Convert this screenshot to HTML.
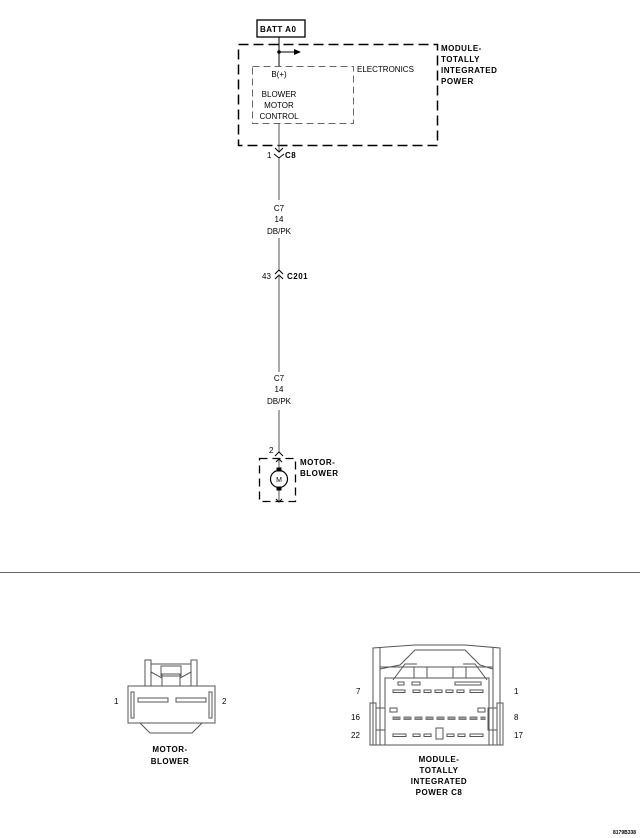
<!DOCTYPE html>
<html><head><meta charset="utf-8"><style>
html,body{margin:0;padding:0;background:#fff;}
svg{display:block;}
text{font-family:"Liberation Sans",sans-serif;fill:#000;}
.t{font-size:8px;}
.b{font-size:8px;font-weight:bold;letter-spacing:0.5px;}
</style></head><body>
<svg width="640" height="838" viewBox="0 0 640 838" xmlns="http://www.w3.org/2000/svg">
<g stroke="#000" fill="none" stroke-width="1">
<!-- BATT box -->
<rect x="257" y="20" width="48" height="17" stroke-width="1.3"/>
<!-- outer dashed -->
<rect x="238.5" y="44.5" width="199" height="101" stroke-dasharray="10,5" stroke-width="1.5"/>
<!-- inner dashed -->
<rect x="252.5" y="66.5" width="101" height="57" stroke-dasharray="7,4" stroke="#666"/>
<!-- wires -->
<line x1="279" y1="37" x2="279" y2="66"/>
<line x1="279" y1="52" x2="296" y2="52"/>
<line x1="279" y1="123" x2="279" y2="152" stroke="#555"/>
<polyline points="275,148 279,152 283,148"/>
<polyline points="274,154 279,158 284,154"/>
<line x1="279" y1="158" x2="279" y2="200" stroke="#555"/>
<line x1="279" y1="238" x2="279" y2="270" stroke="#555"/>
<polyline points="275,274 279,270 283,274"/>
<polyline points="275,279 279,275 283,279"/>
<line x1="279" y1="275" x2="279" y2="372" stroke="#555"/>
<line x1="279" y1="410" x2="279" y2="452" stroke="#555"/>
<polyline points="275,456 279,452 283,456"/>
<!-- motor box -->
<rect x="259.5" y="458.5" width="36" height="43" stroke-dasharray="8,5" stroke-width="1.3"/>
<line x1="279" y1="458" x2="279" y2="502" stroke="#555"/>
<polyline points="276,462 279,459 282,462"/>
<polyline points="276,499 279,502 282,499"/>
<circle cx="279" cy="479" r="8.5" fill="#fff" stroke-width="1.2"/>
<rect x="277" y="468" width="4" height="3" fill="#000"/>
<rect x="277" y="487" width="4" height="3" fill="#000"/>
<!-- separator -->
<line x1="0" y1="572.5" x2="640" y2="572.5" stroke="#666"/>
<!-- motor blower connector -->
<g stroke="#555">
<rect x="128" y="686" width="87" height="37"/>
<polyline points="140,723 150,733 192,733 202,723"/>
<rect x="131" y="692" width="3" height="26"/>
<rect x="209" y="692" width="3" height="26"/>
<rect x="145" y="660" width="6" height="26"/>
<rect x="191" y="660" width="6" height="26"/>
<polyline points="151,664 191,664"/>
<polyline points="151,672 162,678 162,686"/>
<polyline points="191,672 180,678 180,686"/>
<rect x="161" y="666" width="20" height="10"/>
<rect x="162" y="674" width="18" height="12"/>
<rect x="138" y="698" width="30" height="4"/>
<rect x="176" y="698" width="30" height="4"/>
</g>
<!-- C8 connector -->
<g stroke="#555">
<polyline points="373,745 373,648 415,645 465,645 500,648 500,745 373,745"/>
<line x1="380" y1="648" x2="380" y2="745"/>
<line x1="493" y1="648" x2="493" y2="745"/>
<line x1="380" y1="667" x2="493" y2="667"/>
<polyline points="380,669 400,665 415,650 465,650 480,665 493,669"/>
<polyline points="393,680 405,664 417,664"/>
<polyline points="487,680 475,664 463,664"/>
<rect x="385" y="678" width="104" height="67"/>
<rect x="414" y="667" width="52" height="11"/>
<line x1="427" y1="667" x2="427" y2="678"/>
<line x1="453" y1="667" x2="453" y2="678"/>
<rect x="398" y="682" width="6" height="3"/><rect x="412" y="682" width="8" height="3"/>
<rect x="455" y="682" width="26" height="3"/>
<rect x="370" y="703" width="6" height="42"/>
<rect x="497" y="703" width="6" height="42"/>
<rect x="376" y="708" width="9" height="22"/>
<rect x="488" y="708" width="9" height="22"/>
<rect x="390" y="708" width="7" height="4"/><rect x="478" y="708" width="7" height="4"/>
<!-- row1 -->
<rect x="393" y="690" width="12" height="2.5"/>
<rect x="413" y="690" width="7" height="2.5"/><rect x="424" y="690" width="7" height="2.5"/>
<rect x="435" y="690" width="7" height="2.5"/><rect x="446" y="690" width="7" height="2.5"/>
<rect x="457" y="690" width="7" height="2.5"/><rect x="470" y="690" width="13" height="2.5"/>
<!-- row2 -->
<g fill="#999" stroke="#777">
<rect x="393" y="717" width="7" height="2.5"/><rect x="404" y="717" width="7" height="2.5"/>
<rect x="415" y="717" width="7" height="2.5"/><rect x="426" y="717" width="7" height="2.5"/>
<rect x="437" y="717" width="7" height="2.5"/><rect x="448" y="717" width="7" height="2.5"/>
<rect x="459" y="717" width="7" height="2.5"/><rect x="470" y="717" width="7" height="2.5"/>
<rect x="481" y="717" width="4" height="2.5"/>
</g>
<!-- row3 -->
<rect x="393" y="734" width="13" height="2.5"/>
<rect x="413" y="734" width="7" height="2.5"/><rect x="424" y="734" width="7" height="2.5"/>
<rect x="436" y="728" width="7" height="11"/>
<rect x="447" y="734" width="7" height="2.5"/><rect x="458" y="734" width="7" height="2.5"/>
<rect x="470" y="734" width="13" height="2.5"/>
</g>
</g>
<polygon points="294,49 301,52 294,55" fill="#000"/>
<circle cx="279" cy="52" r="1.8" fill="#000"/>
<text x="260" y="32" class="b">BATT A0</text>
<text x="441" y="51" class="b">MODULE-</text>
<text x="441" y="62" class="b">TOTALLY</text>
<text x="441" y="73" class="b">INTEGRATED</text>
<text x="441" y="84" class="b">POWER</text>
<text x="357" y="72" class="t">ELECTRONICS</text>
<g text-anchor="middle" class="t">
<text x="279" y="77" class="t">B(+)</text>
<text x="279" y="97" class="t">BLOWER</text>
<text x="279" y="108" class="t">MOTOR</text>
<text x="279" y="119" class="t">CONTROL</text>
<text x="279" y="211" class="t">C7</text>
<text x="279" y="222" class="t">14</text>
<text x="279" y="234" class="t">DB/PK</text>
<text x="279" y="381" class="t">C7</text>
<text x="279" y="392" class="t">14</text>
<text x="279" y="404" class="t">DB/PK</text>
<text x="279" y="482" style="font-size:7px">M</text>
<text x="170" y="752" class="b">MOTOR-</text>
<text x="170" y="764" class="b">BLOWER</text>
<text x="439" y="762" class="b">MODULE-</text>
<text x="439" y="773" class="b">TOTALLY</text>
<text x="439" y="784" class="b">INTEGRATED</text>
<text x="439" y="795" class="b">POWER C8</text>
</g>
<text x="267" y="158" class="t">1</text>
<text x="285" y="158" class="b">C8</text>
<text x="262" y="279" class="t">43</text>
<text x="287" y="279" class="b">C201</text>
<text x="269" y="453" class="t">2</text>
<text x="300" y="465" class="b">MOTOR-</text>
<text x="300" y="476" class="b">BLOWER</text>
<text x="114" y="704" class="t">1</text>
<text x="222" y="704" class="t">2</text>
<text x="356" y="694" class="t">7</text>
<text x="514" y="694" class="t">1</text>
<text x="351" y="720" class="t">16</text>
<text x="514" y="720" class="t">8</text>
<text x="351" y="738" class="t">22</text>
<text x="514" y="738" class="t">17</text>
<text x="613" y="834" style="font-size:5px;font-weight:bold">8179B338</text>
</svg>
</body></html>
